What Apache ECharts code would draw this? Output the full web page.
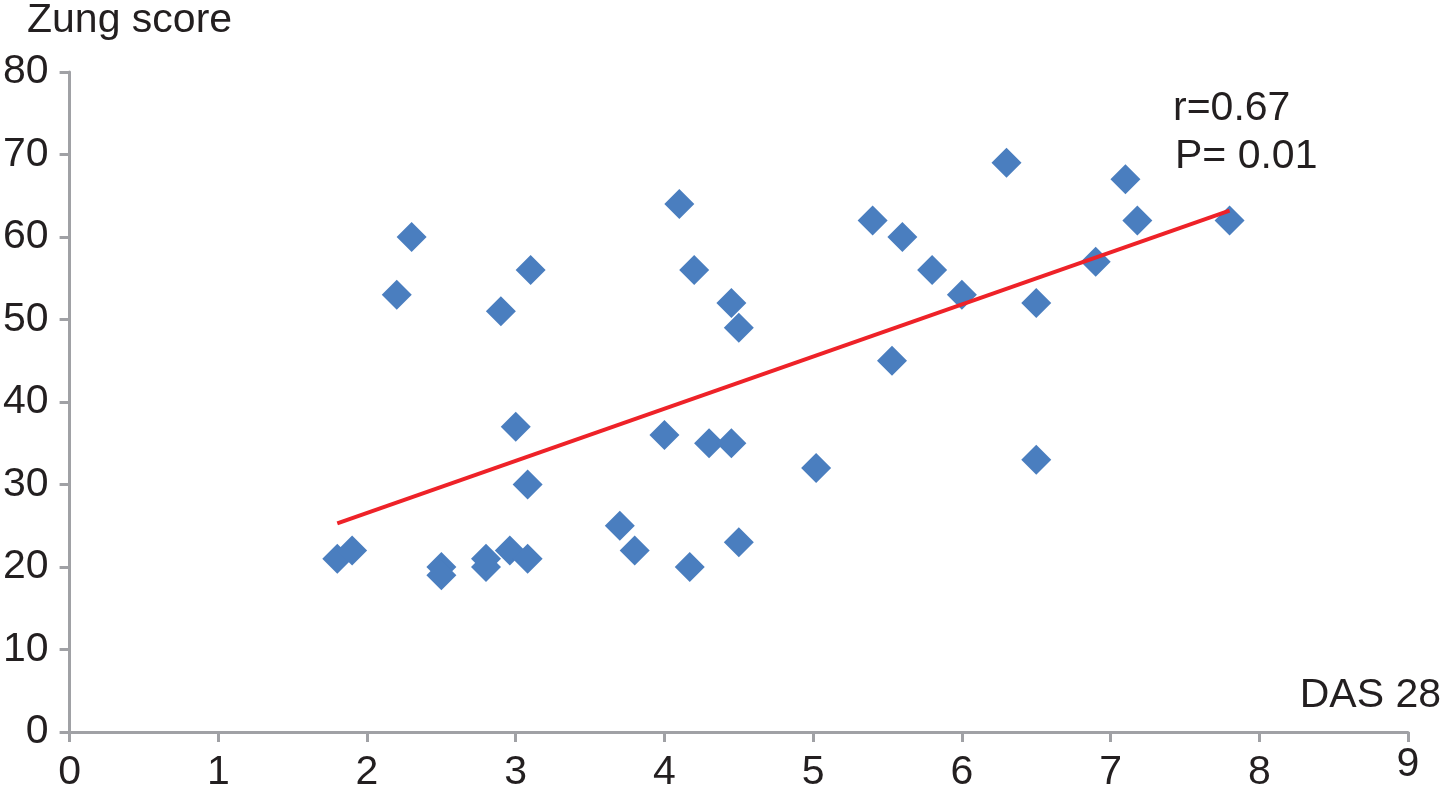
<!DOCTYPE html>
<html>
<head>
<meta charset="utf-8">
<script src="https://cdn.jsdelivr.net/npm/echarts@6/dist/echarts.min.js"></script>
<style>
html,body{margin:0;padding:0;background:#fff;}
#chart{width:1443px;height:797px;}
</style>
</head>
<body>
<div id="chart"></div>
<script>
var das28 = [1.8,1.9,2.2,2.3,2.5,2.5,2.8,2.8,2.9,2.96,3.0,3.08,3.08,3.1,3.7,3.8,4.0,4.1,4.2,4.17,4.3,4.45,4.45,4.5,4.5,5.02,5.4,5.53,5.6,5.8,6.0,6.3,6.5,6.5,6.9,7.1,7.18,7.8];
var zung  = [21,22,53,60,20,19,21,20,51,22,37,30,21,56,25,22,36,64,56,20,35,35,52,49,23,32,62,45,60,56,53,69,52,33,57,67,62,62];
var trendX = [1.8, 7.8];
var trendY = [25.3, 63.2];
var xTicks = [0,1,2,3,4,5,6,7,8,9];
var yTicks = [0,10,20,30,40,50,60,70,80];

var FONT = 'Liberation Sans, Arial, Helvetica, sans-serif';
var TXT = '#231f20';
var AX = '#a0a1a5';

var points = das28.map(function(x,i){ return [x, zung[i]]; });
var trend = trendX.map(function(x,i){ return [x, trendY[i]]; });

var chart = echarts.init(document.getElementById('chart'));
chart.setOption({
  animation:false,
  backgroundColor:'#fff',
  grid:{left:66,right:35,top:72,bottom:65,containLabel:false},
  xAxis:{
    type:'value',min:0,max:9,interval:1,
    splitLine:{show:false},
    axisLine:{show:true,onZero:false,lineStyle:{color:AX,width:3}},
    axisTick:{show:true,length:10,lineStyle:{color:AX,width:3}},
    axisLabel:{
      margin:20,fontSize:41,color:TXT,fontFamily:FONT,lineHeight:41,
      formatter:function(v){ return v===9 ? '{n|9}' : String(v); },
      rich:{n:{fontSize:41,color:TXT,fontFamily:FONT,lineHeight:25}}
    }
  },
  yAxis:{
    type:'value',min:0,max:80,interval:10,
    splitLine:{show:false},
    axisLine:{show:true,onZero:false,lineStyle:{color:AX,width:3}},
    axisTick:{show:true,length:10,lineStyle:{color:AX,width:3}},
    axisLabel:{margin:21,fontSize:41,color:TXT,fontFamily:FONT,padding:[0,0,9,0]}
  },
  graphic:[
    {type:'text',left:27,top:0,style:{text:'Zung score',font:'41px '+FONT,fill:TXT}},
    {type:'text',left:1173,top:88,style:{text:'r=0.67',font:'41px '+FONT,fill:TXT}},
    {type:'text',left:1175,top:136,style:{text:'P= 0.01',font:'41px '+FONT,fill:TXT}},
    {type:'text',right:2,top:675,style:{text:'DAS 28',font:'41px '+FONT,fill:TXT}}
  ],
  series:[
    {
      type:'scatter',data:points,symbol:'diamond',symbolSize:30,
      itemStyle:{color:'#4a7ebf',opacity:1},z:2
    },
    {
      type:'line',data:trend,symbol:'none',
      lineStyle:{color:'#ee2228',width:4},z:3
    }
  ]
});
</script>
</body>
</html>
